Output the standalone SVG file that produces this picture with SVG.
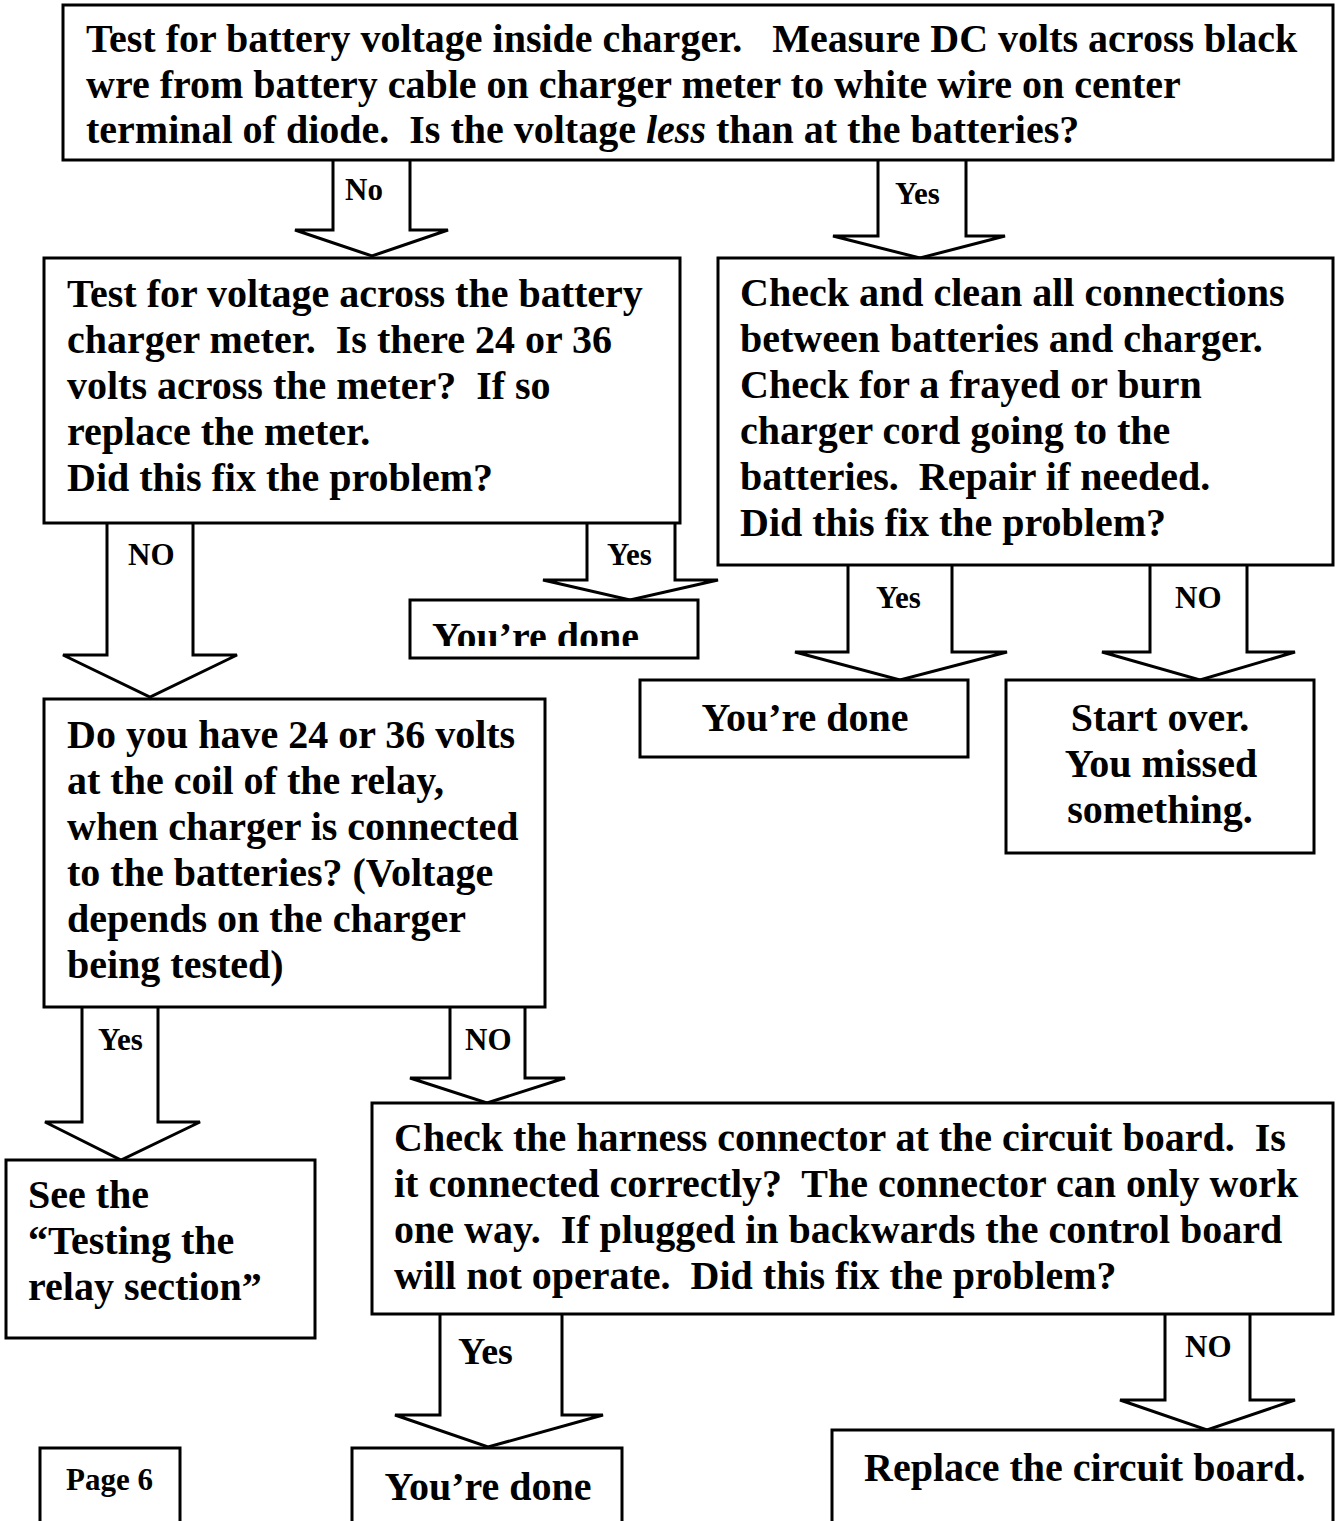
<svg xmlns="http://www.w3.org/2000/svg" width="1338" height="1521" viewBox="0 0 1338 1521">
<defs>
<style>
.box{fill:#fff;stroke:#000;stroke-width:3}
.arr{fill:#fff;stroke:#000;stroke-width:3;stroke-linejoin:miter}
.t{font-family:"Liberation Serif","Times New Roman",serif;font-weight:bold;font-size:40px;fill:#000;white-space:pre}
.c{text-anchor:middle}
.lbl{font-family:"Liberation Serif","Times New Roman",serif;font-weight:bold;font-size:31px;fill:#000}
</style>
<clipPath id="clipDone"><rect x="410" y="600" width="290" height="46"/></clipPath>
</defs>
<rect width="1338" height="1521" fill="#fff"/>

<g id="connectors">
<path class="arr" d="M333,160 V230 H295 L372,256 L448,230 H410 V160"/>
<path class="arr" d="M878,160 V236 H833 L920,258 L1005,236 H966 V160"/>
<path class="arr" d="M107,523 V655 H63 L150,697 L237,655 H193 V523"/>
<path class="arr" d="M587,523 V580 H543 L630,600 L718,580 H675 V523"/>
<path class="arr" d="M848,565 V652 H795 L900,680 L1007,652 H952 V565"/>
<path class="arr" d="M1150,565 V652 H1102 L1200,680 L1295,652 H1247 V565"/>
<path class="arr" d="M82,1007 V1122 H45 L121,1160 L200,1122 H158 V1007"/>
<path class="arr" d="M450,1007 V1078 H410 L487,1103 L565,1078 H525 V1007"/>
<path class="arr" d="M440,1314 V1415 H395 L488,1447 L603,1415 H562 V1314"/>
<path class="arr" d="M1165,1314 V1400 H1120 L1207,1430 L1295,1400 H1250 V1314"/>
<text class="lbl" x="345" y="200">No</text>
<text class="lbl" x="895" y="204">Yes</text>
<text class="lbl" x="128" y="565">NO</text>
<text class="lbl" x="607" y="565">Yes</text>
<text class="lbl" x="876" y="608">Yes</text>
<text class="lbl" x="1175" y="608">NO</text>
<text class="lbl" x="98" y="1050">Yes</text>
<text class="lbl" x="465" y="1050">NO</text>
<text class="lbl" x="458" y="1364" style="font-size:38px">Yes</text>
<text class="lbl" x="1185" y="1357">NO</text>
</g>

<g id="n1">
<rect class="box" x="63" y="5" width="1270" height="155"/>
<text class="t" x="86" y="52">Test for battery voltage inside charger.   Measure DC volts across black</text>
<text class="t" x="86" y="98">wre from battery cable on charger meter to white wire on center</text>
<text class="t" x="86" y="143">terminal of diode.  Is the voltage <tspan font-style="italic">less</tspan> than at the batteries?</text>
</g>

<g id="n2">
<rect class="box" x="44" y="258" width="636" height="265"/>
<text class="t" x="67" y="307">Test for voltage across the battery</text>
<text class="t" x="67" y="353">charger meter.  Is there 24 or 36</text>
<text class="t" x="67" y="399">volts across the meter?  If so</text>
<text class="t" x="67" y="445">replace the meter.</text>
<text class="t" x="67" y="491">Did this fix the problem?</text>
</g>

<g id="n3">
<rect class="box" x="718" y="258" width="615" height="307"/>
<text class="t" x="740" y="306">Check and clean all connections</text>
<text class="t" x="740" y="352">between batteries and charger.</text>
<text class="t" x="740" y="398">Check for a frayed or burn</text>
<text class="t" x="740" y="444">charger cord going to the</text>
<text class="t" x="740" y="490">batteries.  Repair if needed.</text>
<text class="t" x="740" y="536">Did this fix the problem?</text>
</g>

<g id="n4">
<rect class="box" x="410" y="600" width="288" height="58"/>
<text class="t" x="432" y="650" clip-path="url(#clipDone)">You’re done</text>
</g>

<g id="n5">
<rect class="box" x="640" y="680" width="328" height="77"/>
<text class="t c" x="805" y="731">You’re done</text>
</g>

<g id="n6">
<rect class="box" x="1006" y="680" width="308" height="173"/>
<text class="t c" x="1160" y="731">Start over.</text>
<text class="t c" x="1161" y="777">You missed</text>
<text class="t c" x="1160" y="823">something.</text>
</g>

<g id="n7">
<rect class="box" x="44" y="699" width="501" height="308"/>
<text class="t" x="67" y="748">Do you have 24 or 36 volts</text>
<text class="t" x="67" y="794">at the coil of the relay,</text>
<text class="t" x="67" y="840">when charger is connected</text>
<text class="t" x="67" y="886">to the batteries? (Voltage</text>
<text class="t" x="67" y="932">depends on the charger</text>
<text class="t" x="67" y="978">being tested)</text>
</g>

<g id="n8">
<rect class="box" x="6" y="1160" width="309" height="178"/>
<text class="t" x="28" y="1208">See the</text>
<text class="t" x="28" y="1254">“Testing the</text>
<text class="t" x="28" y="1300">relay section”</text>
</g>

<g id="n9">
<rect class="box" x="372" y="1103" width="961" height="211"/>
<text class="t" x="394" y="1151">Check the harness connector at the circuit board.  Is</text>
<text class="t" x="394" y="1197">it connected correctly?  The connector can only work</text>
<text class="t" x="394" y="1243">one way.  If plugged in backwards the control board</text>
<text class="t" x="394" y="1289">will not operate.  Did this fix the problem?</text>
</g>

<g id="n10">
<rect class="box" x="352" y="1448" width="270" height="80"/>
<text class="t c" x="488" y="1500">You’re done</text>
</g>

<g id="n11">
<rect class="box" x="832" y="1430" width="501" height="100"/>
<text class="t" x="864" y="1481">Replace the circuit board.</text>
</g>

<g id="n12">
<rect class="box" x="40" y="1448" width="140" height="80"/>
<text class="lbl" x="66" y="1490">Page 6</text>
</g>
</svg>
